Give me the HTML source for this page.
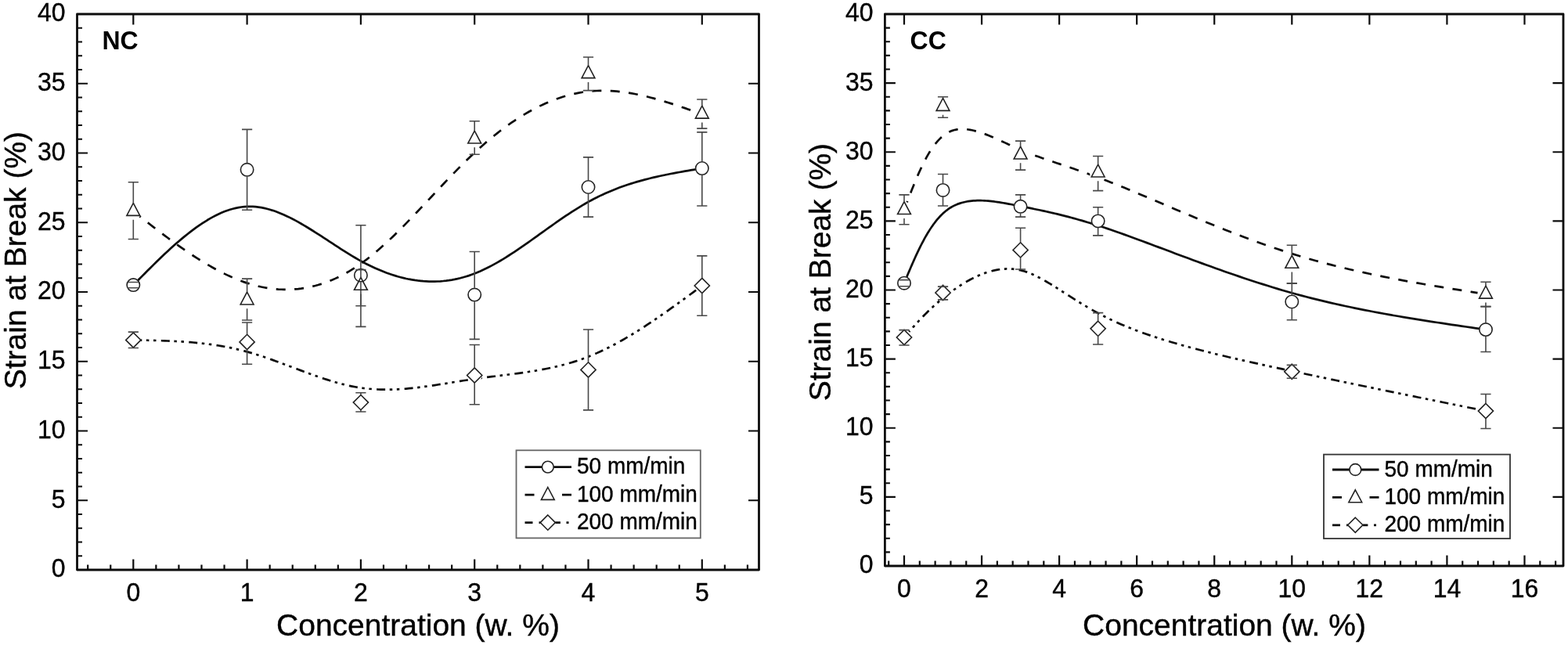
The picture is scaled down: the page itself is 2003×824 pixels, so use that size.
<!DOCTYPE html>
<html lang="en">
<head>
<meta charset="utf-8">
<title>Strain at Break vs Concentration</title>
<style>
html,body{margin:0;padding:0;background:#fff;}
body{width:2003px;height:824px;overflow:hidden;}
svg{display:block;font-family:"Liberation Sans", Arial, Helvetica, sans-serif;}
text{fill:#000;}
.t,.t text{stroke:#000;stroke-width:0.4px;}
</style>
</head>
<body>
<svg width="2003" height="824" viewBox="0 0 2003 824">
<rect width="2003" height="824" fill="#fff"/>
<g id="L">
<defs>
<mask id="mLc" maskUnits="userSpaceOnUse" x="0" y="0" width="2003" height="824"><rect width="2003" height="824" fill="#fff"/>
<circle cx="170.3" cy="364.12" r="8.7" fill="#000"/>
<circle cx="315.6" cy="216.8" r="8.7" fill="#000"/>
<circle cx="460.9" cy="351.7" r="8.7" fill="#000"/>
<circle cx="606.2" cy="376.55" r="8.7" fill="#000"/>
<circle cx="751.5" cy="238.99" r="8.7" fill="#000"/>
<circle cx="896.8" cy="215.02" r="8.7" fill="#000"/>
</mask>
<mask id="mLt" maskUnits="userSpaceOnUse" x="0" y="0" width="2003" height="824"><rect width="2003" height="824" fill="#fff"/>
<circle cx="170.3" cy="270.05" r="10.6" fill="#000"/>
<circle cx="315.6" cy="383.65" r="10.6" fill="#000"/>
<circle cx="460.9" cy="365.01" r="10.6" fill="#000"/>
<circle cx="606.2" cy="177.75" r="10.6" fill="#000"/>
<circle cx="751.5" cy="94.32" r="10.6" fill="#000"/>
<circle cx="896.8" cy="145.8" r="10.6" fill="#000"/>
</mask>
<mask id="mLd" maskUnits="userSpaceOnUse" x="0" y="0" width="2003" height="824"><rect width="2003" height="824" fill="#fff"/>
<circle cx="170.3" cy="434.42" r="9.6" fill="#000"/>
<circle cx="315.6" cy="436.9" r="9.6" fill="#000"/>
<circle cx="460.9" cy="514.11" r="9.6" fill="#000"/>
<circle cx="606.2" cy="479.5" r="9.6" fill="#000"/>
<circle cx="751.5" cy="472.4" r="9.6" fill="#000"/>
<circle cx="896.8" cy="365.01" r="9.6" fill="#000"/>
</mask>
</defs>
<path mask="url(#mLc)" d="M170.3 364.12L173.93 360.44L177.56 356.76L181.2 353.1L184.83 349.44L188.46 345.8L192.09 342.19L195.73 338.6L199.36 335.04L202.99 331.51L206.63 328.03L210.26 324.59L213.89 321.2L217.52 317.86L221.16 314.58L224.79 311.36L228.42 308.21L232.05 305.12L235.69 302.12L239.32 299.19L242.95 296.34L246.58 293.59L250.22 290.92L253.85 288.36L257.48 285.89L261.11 283.53L264.75 281.28L268.38 279.15L272.01 277.13L275.64 275.24L279.27 273.48L282.91 271.84L286.54 270.35L290.17 268.99L293.81 267.79L297.44 266.73L301.07 265.82L304.7 265.08L308.34 264.5L311.97 264.08L315.6 263.84L319.23 263.77L322.87 263.87L326.5 264.14L330.13 264.56L333.76 265.14L337.4 265.86L341.03 266.72L344.66 267.72L348.29 268.84L351.93 270.08L355.56 271.44L359.19 272.91L362.82 274.48L366.45 276.15L370.09 277.9L373.72 279.75L377.35 281.67L380.99 283.66L384.62 285.72L388.25 287.84L391.88 290.01L395.51 292.23L399.15 294.49L402.78 296.79L406.41 299.12L410.05 301.46L413.68 303.83L417.31 306.21L420.94 308.59L424.58 310.97L428.21 313.35L431.84 315.71L435.47 318.05L439.11 320.36L442.74 322.64L446.37 324.89L450 327.09L453.64 329.24L457.27 331.33L460.9 333.36L464.53 335.32L468.16 337.21L471.8 339.04L475.43 340.79L479.06 342.47L482.7 344.07L486.33 345.6L489.96 347.06L493.59 348.45L497.23 349.75L500.86 350.98L504.49 352.13L508.12 353.21L511.75 354.2L515.39 355.11L519.02 355.95L522.65 356.7L526.29 357.36L529.92 357.95L533.55 358.45L537.18 358.86L540.82 359.19L544.45 359.43L548.08 359.59L551.71 359.66L555.35 359.63L558.98 359.52L562.61 359.32L566.24 359.02L569.88 358.63L573.51 358.15L577.14 357.57L580.77 356.9L584.41 356.14L588.04 355.27L591.67 354.31L595.3 353.25L598.94 352.1L602.57 350.84L606.2 349.48L609.83 348.02L613.47 346.47L617.1 344.82L620.73 343.08L624.36 341.26L628 339.36L631.63 337.38L635.26 335.33L638.89 333.21L642.52 331.04L646.16 328.8L649.79 326.51L653.42 324.17L657.05 321.78L660.69 319.35L664.32 316.89L667.95 314.39L671.59 311.87L675.22 309.32L678.85 306.75L682.48 304.17L686.12 301.57L689.75 298.97L693.38 296.37L697.01 293.77L700.64 291.17L704.28 288.59L707.91 286.02L711.54 283.47L715.18 280.94L718.81 278.44L722.44 275.98L726.07 273.55L729.71 271.16L733.34 268.81L736.97 266.52L740.6 264.28L744.24 262.1L747.87 259.97L751.5 257.92L755.13 255.94L758.76 254.02L762.4 252.18L766.03 250.39L769.66 248.68L773.3 247.02L776.93 245.43L780.56 243.89L784.19 242.41L787.83 240.98L791.46 239.61L795.09 238.29L798.72 237.02L802.36 235.8L805.99 234.62L809.62 233.49L813.25 232.4L816.88 231.35L820.52 230.35L824.15 229.37L827.78 228.44L831.41 227.53L835.05 226.66L838.68 225.82L842.31 225.01L845.94 224.22L849.58 223.46L853.21 222.72L856.84 222.01L860.47 221.31L864.11 220.63L867.74 219.97L871.37 219.32L875 218.68L878.64 218.06L882.27 217.44L885.9 216.83L889.53 216.23L893.17 215.62L896.8 215.02" fill="none" stroke="#0c0c0c" stroke-width="2.7" stroke-linejoin="round"/>
<path mask="url(#mLt)" d="M170.3 270.05L173.93 272.89L177.56 275.73L181.2 278.56L184.83 281.39L188.46 284.21L192.09 287.02L195.73 289.81L199.36 292.59L202.99 295.36L206.63 298.11L210.26 300.83L213.89 303.53L217.52 306.21L221.16 308.87L224.79 311.49L228.42 314.08L232.05 316.64L235.69 319.16L239.32 321.65L242.95 324.1L246.58 326.5L250.22 328.86L253.85 331.18L257.48 333.45L261.11 335.67L264.75 337.84L268.38 339.95L272.01 342.01L275.64 344.01L279.27 345.95L282.91 347.83L286.54 349.65L290.17 351.39L293.81 353.07L297.44 354.69L301.07 356.22L304.7 357.69L308.34 359.07L311.97 360.38L315.6 361.61L319.23 362.76L322.87 363.82L326.5 364.8L330.13 365.69L333.76 366.5L337.4 367.22L341.03 367.86L344.66 368.41L348.29 368.88L351.93 369.25L355.56 369.54L359.19 369.74L362.82 369.85L366.45 369.87L370.09 369.8L373.72 369.64L377.35 369.38L380.99 369.04L384.62 368.6L388.25 368.06L391.88 367.44L395.51 366.72L399.15 365.9L402.78 364.99L406.41 363.98L410.05 362.87L413.68 361.67L417.31 360.37L420.94 358.97L424.58 357.47L428.21 355.87L431.84 354.17L435.47 352.38L439.11 350.47L442.74 348.47L446.37 346.37L450 344.16L453.64 341.85L457.27 339.43L460.9 336.91L464.53 334.28L468.16 331.56L471.8 328.73L475.43 325.82L479.06 322.81L482.7 319.72L486.33 316.55L489.96 313.31L493.59 309.99L497.23 306.61L500.86 303.17L504.49 299.66L508.12 296.1L511.75 292.49L515.39 288.84L519.02 285.14L522.65 281.41L526.29 277.65L529.92 273.85L533.55 270.03L537.18 266.19L540.82 262.34L544.45 258.47L548.08 254.59L551.71 250.72L555.35 246.84L558.98 242.97L562.61 239.11L566.24 235.26L569.88 231.43L573.51 227.62L577.14 223.84L580.77 220.09L584.41 216.37L588.04 212.7L591.67 209.06L595.3 205.48L598.94 201.95L602.57 198.47L606.2 195.06L609.83 191.71L613.47 188.42L617.1 185.2L620.73 182.05L624.36 178.96L628 175.94L631.63 172.99L635.26 170.11L638.89 167.29L642.52 164.55L646.16 161.87L649.79 159.27L653.42 156.73L657.05 154.27L660.69 151.88L664.32 149.56L667.95 147.31L671.59 145.14L675.22 143.04L678.85 141.01L682.48 139.06L686.12 137.18L689.75 135.38L693.38 133.66L697.01 132.01L700.64 130.44L704.28 128.95L707.91 127.53L711.54 126.19L715.18 124.94L718.81 123.76L722.44 122.66L726.07 121.64L729.71 120.7L733.34 119.85L736.97 119.08L740.6 118.38L744.24 117.78L747.87 117.25L751.5 116.81L755.13 116.45L758.76 116.18L762.4 115.98L766.03 115.86L769.66 115.82L773.3 115.85L776.93 115.96L780.56 116.13L784.19 116.37L787.83 116.68L791.46 117.05L795.09 117.48L798.72 117.97L802.36 118.52L805.99 119.12L809.62 119.77L813.25 120.48L816.88 121.23L820.52 122.03L824.15 122.87L827.78 123.76L831.41 124.69L835.05 125.65L838.68 126.65L842.31 127.68L845.94 128.75L849.58 129.84L853.21 130.96L856.84 132.11L860.47 133.28L864.11 134.47L867.74 135.68L871.37 136.91L875 138.15L878.64 139.41L882.27 140.67L885.9 141.95L889.53 143.23L893.17 144.51L896.8 145.8" fill="none" stroke="#0c0c0c" stroke-width="2.7" stroke-linejoin="round" stroke-dasharray="12 11.4"/>
<path mask="url(#mLd)" d="M170.3 434.42L173.93 434.48L177.56 434.54L181.2 434.61L184.83 434.68L188.46 434.75L192.09 434.83L195.73 434.92L199.36 435.01L202.99 435.12L206.63 435.23L210.26 435.36L213.89 435.5L217.52 435.65L221.16 435.82L224.79 436L228.42 436.21L232.05 436.43L235.69 436.67L239.32 436.93L242.95 437.21L246.58 437.52L250.22 437.85L253.85 438.21L257.48 438.6L261.11 439.01L264.75 439.45L268.38 439.92L272.01 440.43L275.64 440.96L279.27 441.53L282.91 442.14L286.54 442.78L290.17 443.46L293.81 444.18L297.44 444.93L301.07 445.73L304.7 446.57L308.34 447.45L311.97 448.38L315.6 449.35L319.23 450.37L322.87 451.44L326.5 452.54L330.13 453.68L333.76 454.86L337.4 456.07L341.03 457.31L344.66 458.57L348.29 459.86L351.93 461.17L355.56 462.49L359.19 463.83L362.82 465.18L366.45 466.55L370.09 467.91L373.72 469.28L377.35 470.65L380.99 472.02L384.62 473.38L388.25 474.73L391.88 476.07L395.51 477.4L399.15 478.71L402.78 480L406.41 481.26L410.05 482.5L413.68 483.71L417.31 484.89L420.94 486.04L424.58 487.14L428.21 488.21L431.84 489.23L435.47 490.2L439.11 491.13L442.74 492L446.37 492.82L450 493.58L453.64 494.27L457.27 494.91L460.9 495.47L464.53 495.97L468.16 496.4L471.8 496.77L475.43 497.07L479.06 497.31L482.7 497.49L486.33 497.61L489.96 497.68L493.59 497.7L497.23 497.67L500.86 497.59L504.49 497.46L508.12 497.29L511.75 497.08L515.39 496.82L519.02 496.54L522.65 496.21L526.29 495.85L529.92 495.47L533.55 495.05L537.18 494.61L540.82 494.14L544.45 493.65L548.08 493.14L551.71 492.62L555.35 492.07L558.98 491.52L562.61 490.95L566.24 490.38L569.88 489.8L573.51 489.21L577.14 488.62L580.77 488.03L584.41 487.44L588.04 486.86L591.67 486.29L595.3 485.72L598.94 485.16L602.57 484.62L606.2 484.09L609.83 483.57L613.47 483.07L617.1 482.59L620.73 482.12L624.36 481.65L628 481.19L631.63 480.74L635.26 480.29L638.89 479.85L642.52 479.4L646.16 478.95L649.79 478.49L653.42 478.03L657.05 477.56L660.69 477.08L664.32 476.58L667.95 476.07L671.59 475.54L675.22 475L678.85 474.43L682.48 473.85L686.12 473.23L689.75 472.59L693.38 471.92L697.01 471.22L700.64 470.49L704.28 469.72L707.91 468.92L711.54 468.08L715.18 467.2L718.81 466.27L722.44 465.3L726.07 464.28L729.71 463.22L733.34 462.1L736.97 460.93L740.6 459.71L744.24 458.42L747.87 457.09L751.5 455.69L755.13 454.22L758.76 452.7L762.4 451.12L766.03 449.48L769.66 447.78L773.3 446.03L776.93 444.22L780.56 442.36L784.19 440.46L787.83 438.5L791.46 436.5L795.09 434.45L798.72 432.36L802.36 430.22L805.99 428.05L809.62 425.83L813.25 423.58L816.88 421.29L820.52 418.97L824.15 416.62L827.78 414.23L831.41 411.81L835.05 409.37L838.68 406.9L842.31 404.4L845.94 401.88L849.58 399.34L853.21 396.78L856.84 394.2L860.47 391.6L864.11 388.98L867.74 386.36L871.37 383.72L875 381.06L878.64 378.4L882.27 375.73L885.9 373.06L889.53 370.38L893.17 367.7L896.8 365.01" fill="none" stroke="#0c0c0c" stroke-width="2.7" stroke-linejoin="round" stroke-dasharray="11 5.6 3.5 5.6 3.5 6.3"/>
<circle cx="170.3" cy="364.12" r="8.2" fill="none" stroke="#222" stroke-width="1.6"/>
<circle cx="315.6" cy="216.8" r="8.2" fill="none" stroke="#222" stroke-width="1.6"/>
<circle cx="460.9" cy="351.7" r="8.2" fill="none" stroke="#222" stroke-width="1.6"/>
<circle cx="606.2" cy="376.55" r="8.2" fill="none" stroke="#222" stroke-width="1.6"/>
<circle cx="751.5" cy="238.99" r="8.2" fill="none" stroke="#222" stroke-width="1.6"/>
<circle cx="896.8" cy="215.02" r="8.2" fill="none" stroke="#222" stroke-width="1.6"/>
<path d="M163.7 360.57H176.9M163.7 367.68H176.9M315.6 165.33V208.1M315.6 225.5V268.28M309 165.33H322.2M309 268.28H322.2M460.9 287.8V343M460.9 360.4V417.38M454.3 287.8H467.5M454.3 417.38H467.5M606.2 321.53V367.85M606.2 385.25V433.35M599.6 321.53H612.8M599.6 433.35H612.8M751.5 200.83V230.29M751.5 247.69V277.15M744.9 200.83H758.1M744.9 277.15H758.1M896.8 168.88V206.32M896.8 223.72V262.95M890.2 168.88H903.4M890.2 262.95H903.4" fill="none" stroke="#484848" stroke-width="1.6"/>
<path d="M170.3 259.45L178.7 275.35L161.9 275.35Z" fill="none" stroke="#222" stroke-width="1.6" stroke-linejoin="miter"/>
<path d="M315.6 373.05L324 388.95L307.2 388.95Z" fill="none" stroke="#222" stroke-width="1.6" stroke-linejoin="miter"/>
<path d="M460.9 354.41L469.3 370.31L452.5 370.31Z" fill="none" stroke="#222" stroke-width="1.6" stroke-linejoin="miter"/>
<path d="M606.2 167.15L614.6 183.05L597.8 183.05Z" fill="none" stroke="#222" stroke-width="1.6" stroke-linejoin="miter"/>
<path d="M751.5 83.72L759.9 99.62L743.1 99.62Z" fill="none" stroke="#222" stroke-width="1.6" stroke-linejoin="miter"/>
<path d="M896.8 135.2L905.2 151.1L888.4 151.1Z" fill="none" stroke="#222" stroke-width="1.6" stroke-linejoin="miter"/>
<path d="M170.3 232.78V259.45M170.3 280.65V305.55M163.7 232.78H176.9M163.7 305.55H176.9M315.6 356.14V373.05M315.6 394.25V409.03M309 356.14H322.2M309 409.03H322.2M460.9 344.6V354.41M460.9 375.61V390.75M454.3 344.6H467.5M454.3 390.75H467.5M606.2 154.68V167.15M606.2 188.35V197.27M599.6 154.68H612.8M599.6 197.27H612.8M751.5 73.02V83.72M751.5 104.92V115.62M744.9 73.02H758.1M744.9 115.62H758.1M896.8 126.99V135.2M896.8 156.4V164.08M890.2 126.99H903.4M890.2 164.08H903.4" fill="none" stroke="#484848" stroke-width="1.6"/>
<path d="M170.3 424.81L179.9 434.42L170.3 444.02L160.7 434.42Z" fill="none" stroke="#222" stroke-width="1.6" stroke-linejoin="miter"/>
<path d="M315.6 427.3L325.2 436.9L315.6 446.5L306 436.9Z" fill="none" stroke="#222" stroke-width="1.6" stroke-linejoin="miter"/>
<path d="M460.9 504.51L470.5 514.11L460.9 523.71L451.3 514.11Z" fill="none" stroke="#222" stroke-width="1.6" stroke-linejoin="miter"/>
<path d="M606.2 469.9L615.8 479.5L606.2 489.1L596.6 479.5Z" fill="none" stroke="#222" stroke-width="1.6" stroke-linejoin="miter"/>
<path d="M751.5 462.8L761.1 472.4L751.5 482L741.9 472.4Z" fill="none" stroke="#222" stroke-width="1.6" stroke-linejoin="miter"/>
<path d="M896.8 355.41L906.4 365.01L896.8 374.61L887.2 365.01Z" fill="none" stroke="#222" stroke-width="1.6" stroke-linejoin="miter"/>
<path d="M170.3 424.12V424.81M170.3 444.02V444.53M163.7 424.12H176.9M163.7 444.53H176.9M315.6 412.05V427.3M315.6 446.5V465.3M309 412.05H322.2M309 465.3H322.2M460.9 501.69V504.51M460.9 523.71V526M454.3 501.69H467.5M454.3 526H467.5M606.2 440.45V469.9M606.2 489.1V516.77M599.6 440.45H612.8M599.6 516.77H612.8M751.5 420.93V462.8M751.5 482V523.88M744.9 420.93H758.1M744.9 523.88H758.1M896.8 326.85V355.41M896.8 374.61V403.18M890.2 326.85H903.4M890.2 403.18H903.4" fill="none" stroke="#484848" stroke-width="1.6"/>
<rect x="98.5" y="18" width="871" height="710" fill="none" stroke="#0c0c0c" stroke-width="2.8" stroke-linejoin="round"/>
<path d="M98.5 710.25h6.5M98.5 692.5h6.5M98.5 674.75h6.5M98.5 657h6.5M98.5 639.25h13.5M969.5 639.25h-13.5M98.5 621.5h6.5M98.5 603.75h6.5M98.5 586h6.5M98.5 568.25h6.5M98.5 550.5h13.5M969.5 550.5h-13.5M98.5 532.75h6.5M98.5 515h6.5M98.5 497.25h6.5M98.5 479.5h6.5M98.5 461.75h13.5M969.5 461.75h-13.5M98.5 444h6.5M98.5 426.25h6.5M98.5 408.5h6.5M98.5 390.75h6.5M98.5 373h13.5M969.5 373h-13.5M98.5 355.25h6.5M98.5 337.5h6.5M98.5 319.75h6.5M98.5 302h6.5M98.5 284.25h13.5M969.5 284.25h-13.5M98.5 266.5h6.5M98.5 248.75h6.5M98.5 231h6.5M98.5 213.25h6.5M98.5 195.5h13.5M969.5 195.5h-13.5M98.5 177.75h6.5M98.5 160h6.5M98.5 142.25h6.5M98.5 124.5h6.5M98.5 106.75h13.5M969.5 106.75h-13.5M98.5 89h6.5M98.5 71.25h6.5M98.5 53.5h6.5M98.5 35.75h6.5M170.3 728v-13.5M170.3 18v13.5M315.6 728v-13.5M315.6 18v13.5M460.9 728v-13.5M460.9 18v13.5M606.2 728v-13.5M606.2 18v13.5M751.5 728v-13.5M751.5 18v13.5M896.8 728v-13.5M896.8 18v13.5M112.18 728v-6.5M141.24 728v-6.5M199.36 728v-6.5M228.42 728v-6.5M257.48 728v-6.5M286.54 728v-6.5M344.66 728v-6.5M373.72 728v-6.5M402.78 728v-6.5M431.84 728v-6.5M489.96 728v-6.5M519.02 728v-6.5M548.08 728v-6.5M577.14 728v-6.5M635.26 728v-6.5M664.32 728v-6.5M693.38 728v-6.5M722.44 728v-6.5M780.56 728v-6.5M809.62 728v-6.5M838.68 728v-6.5M867.74 728v-6.5M925.86 728v-6.5M954.92 728v-6.5" fill="none" stroke="#0c0c0c" stroke-width="2.2"/>
<text class="t" transform="translate(83.6 737.4) scale(0.96 1)" font-size="33.3" text-anchor="end">0</text>
<text class="t" transform="translate(83.6 648.65) scale(0.96 1)" font-size="33.3" text-anchor="end">5</text>
<text class="t" transform="translate(83.6 559.9) scale(0.96 1)" font-size="33.3" text-anchor="end">10</text>
<text class="t" transform="translate(83.6 471.15) scale(0.96 1)" font-size="33.3" text-anchor="end">15</text>
<text class="t" transform="translate(83.6 382.4) scale(0.96 1)" font-size="33.3" text-anchor="end">20</text>
<text class="t" transform="translate(83.6 293.65) scale(0.96 1)" font-size="33.3" text-anchor="end">25</text>
<text class="t" transform="translate(83.6 204.9) scale(0.96 1)" font-size="33.3" text-anchor="end">30</text>
<text class="t" transform="translate(83.6 116.15) scale(0.96 1)" font-size="33.3" text-anchor="end">35</text>
<text class="t" transform="translate(83.6 27.4) scale(0.96 1)" font-size="33.3" text-anchor="end">40</text>
<text class="t" transform="translate(170.3 768.3) scale(0.96 1)" font-size="33.3" text-anchor="middle">0</text>
<text class="t" transform="translate(315.6 768.3) scale(0.96 1)" font-size="33.3" text-anchor="middle">1</text>
<text class="t" transform="translate(460.9 768.3) scale(0.96 1)" font-size="33.3" text-anchor="middle">2</text>
<text class="t" transform="translate(606.2 768.3) scale(0.96 1)" font-size="33.3" text-anchor="middle">3</text>
<text class="t" transform="translate(751.5 768.3) scale(0.96 1)" font-size="33.3" text-anchor="middle">4</text>
<text class="t" transform="translate(896.8 768.3) scale(0.96 1)" font-size="33.3" text-anchor="middle">5</text>
<text class="t" transform="translate(534 812.2) scale(0.987 1)" font-size="39.5" text-anchor="middle">Concentration (w. %)</text>
<text class="t" transform="translate(32.7 332.6) rotate(-90) scale(0.987 1)" font-size="39.5" text-anchor="middle">Strain at Break (%)</text>
<text transform="translate(130.5 63) scale(0.96 1)" font-size="33.3" font-weight="bold">NC</text>
<rect x="659.5" y="575.3" width="235.3" height="112.1" fill="#fff" stroke="#666" stroke-width="1.8"/>
<path d="M670.5 596.6H692.4M707.2 596.6H730" stroke="#0c0c0c" stroke-width="2.8"/>
<circle cx="699.8" cy="596.6" r="7.4" fill="none" stroke="#222" stroke-width="1.6"/>
<text class="t" transform="translate(737 605.1) scale(0.972 1)" font-size="28.8">50 mm/min</text>
<path d="M670.5 632.1h12M718 632.1h12" stroke="#0c0c0c" stroke-width="2.8"/>
<path d="M699.8 622.5L708.2 638.4L691.4 638.4Z" fill="none" stroke="#222" stroke-width="1.6" stroke-linejoin="miter"/>
<text class="t" transform="translate(737 640.6) scale(0.972 1)" font-size="28.8">100 mm/min</text>
<path d="M670.5 667.6h10M688.5 667.6H690.2M709.4 667.6h6.5M723.5 667.6h3" stroke="#0c0c0c" stroke-width="2.8"/>
<path d="M699.8 658L709.4 667.6L699.8 677.2L690.2 667.6Z" fill="none" stroke="#222" stroke-width="1.6" stroke-linejoin="miter"/>
<text class="t" transform="translate(737 676.1) scale(0.972 1)" font-size="28.8">200 mm/min</text>
</g>
<g id="R">
<defs>
<mask id="mRc" maskUnits="userSpaceOnUse" x="0" y="0" width="2003" height="824"><rect width="2003" height="824" fill="#fff"/>
<circle cx="1155" cy="361.69" r="8.7" fill="#000"/>
<circle cx="1204.53" cy="242.9" r="8.7" fill="#000"/>
<circle cx="1303.59" cy="263.87" r="8.7" fill="#000"/>
<circle cx="1402.65" cy="282.38" r="8.7" fill="#000"/>
<circle cx="1650.3" cy="385.48" r="8.7" fill="#000"/>
<circle cx="1897.95" cy="421.08" r="8.7" fill="#000"/>
</mask>
<mask id="mRt" maskUnits="userSpaceOnUse" x="0" y="0" width="2003" height="824"><rect width="2003" height="824" fill="#fff"/>
<circle cx="1155" cy="268.27" r="10.6" fill="#000"/>
<circle cx="1204.53" cy="136.09" r="10.6" fill="#000"/>
<circle cx="1303.59" cy="197.77" r="10.6" fill="#000"/>
<circle cx="1402.65" cy="220.69" r="10.6" fill="#000"/>
<circle cx="1650.3" cy="337.01" r="10.6" fill="#000"/>
<circle cx="1897.95" cy="375.79" r="10.6" fill="#000"/>
</mask>
<mask id="mRd" maskUnits="userSpaceOnUse" x="0" y="0" width="2003" height="824"><rect width="2003" height="824" fill="#fff"/>
<circle cx="1155" cy="430.95" r="9.6" fill="#000"/>
<circle cx="1204.53" cy="374.02" r="9.6" fill="#000"/>
<circle cx="1303.59" cy="319.39" r="9.6" fill="#000"/>
<circle cx="1402.65" cy="419.85" r="9.6" fill="#000"/>
<circle cx="1650.3" cy="474.84" r="9.6" fill="#000"/>
<circle cx="1897.95" cy="525.07" r="9.6" fill="#000"/>
</mask>
</defs>
<path mask="url(#mRc)" d="M1155 361.69L1156.24 358.72L1157.48 355.75L1158.72 352.79L1159.96 349.83L1161.21 346.88L1162.46 343.95L1163.71 341.02L1164.97 338.12L1166.24 335.22L1167.51 332.35L1168.79 329.5L1170.08 326.68L1171.38 323.88L1172.69 321.11L1174.01 318.37L1175.34 315.66L1176.68 312.99L1178.04 310.35L1179.41 307.76L1180.8 305.2L1182.2 302.69L1183.61 300.23L1185.05 297.81L1186.5 295.44L1187.97 293.13L1189.46 290.87L1190.97 288.67L1192.5 286.52L1194.06 284.44L1195.63 282.42L1197.23 280.47L1198.85 278.58L1200.5 276.76L1202.17 275.02L1203.87 273.35L1205.59 271.76L1207.35 270.24L1209.13 268.81L1210.94 267.46L1212.78 266.19L1214.66 265.01L1216.56 263.92L1218.49 262.9L1220.45 261.97L1222.44 261.12L1224.46 260.35L1226.5 259.64L1228.57 259.01L1230.66 258.45L1232.78 257.96L1234.92 257.53L1237.08 257.17L1239.26 256.86L1241.47 256.62L1243.69 256.43L1245.94 256.29L1248.2 256.21L1250.48 256.17L1252.78 256.18L1255.09 256.24L1257.42 256.34L1259.77 256.48L1262.12 256.66L1264.49 256.88L1266.88 257.13L1269.27 257.41L1271.68 257.73L1274.09 258.06L1276.52 258.43L1278.95 258.82L1281.4 259.22L1283.84 259.65L1286.3 260.09L1288.76 260.55L1291.22 261.02L1293.69 261.49L1296.16 261.98L1298.64 262.47L1301.11 262.96L1303.59 263.46L1306.07 263.95L1308.55 264.44L1311.03 264.94L1313.52 265.43L1316.02 265.93L1318.53 266.44L1321.06 266.95L1323.6 267.47L1326.16 268L1328.74 268.54L1331.35 269.09L1333.98 269.66L1336.63 270.24L1339.32 270.84L1342.04 271.45L1344.8 272.08L1347.59 272.74L1350.42 273.41L1353.3 274.11L1356.22 274.83L1359.18 275.58L1362.19 276.36L1365.26 277.16L1368.38 277.99L1371.55 278.86L1374.78 279.75L1378.07 280.68L1381.43 281.65L1384.85 282.65L1388.33 283.69L1391.89 284.77L1395.52 285.89L1399.22 287.05L1403 288.26L1406.86 289.51L1410.8 290.8L1414.82 292.15L1418.93 293.54L1423.13 294.98L1427.41 296.47L1431.79 298.02L1436.27 299.62L1440.82 301.26L1445.47 302.95L1450.2 304.69L1455.01 306.46L1459.89 308.28L1464.86 310.13L1469.9 312.01L1475.01 313.92L1480.19 315.87L1485.44 317.84L1490.75 319.83L1496.13 321.85L1501.56 323.89L1507.06 325.94L1512.61 328.01L1518.21 330.09L1523.87 332.19L1529.57 334.28L1535.32 336.39L1541.11 338.5L1546.95 340.6L1552.82 342.71L1558.74 344.81L1564.68 346.91L1570.66 349L1576.67 351.07L1582.71 353.13L1588.77 355.18L1594.86 357.21L1600.97 359.21L1607.09 361.2L1613.24 363.15L1619.39 365.08L1625.56 366.98L1631.74 368.85L1637.92 370.68L1644.11 372.48L1650.3 374.23L1656.49 375.94L1662.68 377.62L1668.87 379.25L1675.07 380.84L1681.26 382.39L1687.45 383.91L1693.64 385.39L1699.83 386.84L1706.02 388.25L1712.21 389.64L1718.4 390.98L1724.6 392.3L1730.79 393.59L1736.98 394.85L1743.17 396.09L1749.36 397.29L1755.55 398.47L1761.74 399.63L1767.93 400.76L1774.12 401.88L1780.32 402.97L1786.51 404.04L1792.7 405.09L1798.89 406.12L1805.08 407.14L1811.27 408.14L1817.46 409.13L1823.65 410.1L1829.85 411.06L1836.04 412.01L1842.23 412.95L1848.42 413.87L1854.61 414.79L1860.8 415.71L1866.99 416.61L1873.18 417.51L1879.38 418.41L1885.57 419.3L1891.76 420.19L1897.95 421.08" fill="none" stroke="#0c0c0c" stroke-width="2.7" stroke-linejoin="round"/>
<path mask="url(#mRt)" d="M1155 268.27L1156.24 264.97L1157.48 261.67L1158.72 258.37L1159.96 255.09L1161.21 251.81L1162.46 248.56L1163.71 245.32L1164.97 242.1L1166.24 238.9L1167.51 235.73L1168.79 232.6L1170.08 229.49L1171.38 226.42L1172.69 223.39L1174.01 220.41L1175.34 217.47L1176.68 214.58L1178.04 211.74L1179.41 208.95L1180.8 206.22L1182.2 203.55L1183.61 200.95L1185.05 198.41L1186.5 195.94L1187.97 193.55L1189.46 191.23L1190.97 188.99L1192.5 186.83L1194.06 184.75L1195.63 182.77L1197.23 180.87L1198.85 179.07L1200.5 177.36L1202.17 175.76L1203.87 174.26L1205.59 172.86L1207.35 171.58L1209.13 170.4L1210.94 169.34L1212.78 168.4L1214.66 167.58L1216.56 166.87L1218.49 166.29L1220.45 165.81L1222.44 165.43L1224.46 165.16L1226.5 164.99L1228.57 164.92L1230.66 164.93L1232.78 165.04L1234.92 165.23L1237.08 165.5L1239.26 165.85L1241.47 166.27L1243.69 166.77L1245.94 167.33L1248.2 167.95L1250.48 168.63L1252.78 169.37L1255.09 170.16L1257.42 171L1259.77 171.88L1262.12 172.81L1264.49 173.77L1266.88 174.77L1269.27 175.8L1271.68 176.85L1274.09 177.92L1276.52 179.02L1278.95 180.13L1281.4 181.26L1283.84 182.39L1286.3 183.52L1288.76 184.66L1291.22 185.8L1293.69 186.93L1296.16 188.05L1298.64 189.15L1301.11 190.24L1303.59 191.31L1306.07 192.36L1308.55 193.38L1311.03 194.39L1313.52 195.37L1316.02 196.34L1318.53 197.3L1321.06 198.24L1323.6 199.17L1326.16 200.1L1328.74 201.02L1331.35 201.94L1333.98 202.85L1336.63 203.77L1339.32 204.69L1342.04 205.61L1344.8 206.54L1347.59 207.48L1350.42 208.43L1353.3 209.39L1356.22 210.37L1359.18 211.36L1362.19 212.38L1365.26 213.41L1368.38 214.47L1371.55 215.56L1374.78 216.67L1378.07 217.81L1381.43 218.98L1384.85 220.19L1388.33 221.43L1391.89 222.71L1395.52 224.02L1399.22 225.39L1403 226.79L1406.86 228.24L1410.8 229.74L1414.82 231.29L1418.93 232.89L1423.13 234.54L1427.41 236.26L1431.79 238.03L1436.27 239.85L1440.82 241.73L1445.47 243.66L1450.2 245.63L1455.01 247.65L1459.89 249.72L1464.86 251.82L1469.9 253.96L1475.01 256.13L1480.19 258.34L1485.44 260.58L1490.75 262.84L1496.13 265.12L1501.56 267.43L1507.06 269.75L1512.61 272.09L1518.21 274.45L1523.87 276.81L1529.57 279.18L1535.32 281.56L1541.11 283.93L1546.95 286.31L1552.82 288.69L1558.74 291.06L1564.68 293.42L1570.66 295.77L1576.67 298.1L1582.71 300.42L1588.77 302.72L1594.86 305L1600.97 307.25L1607.09 309.48L1613.24 311.68L1619.39 313.84L1625.56 315.97L1631.74 318.07L1637.92 320.12L1644.11 322.12L1650.3 324.09L1656.49 326L1662.68 327.87L1668.87 329.69L1675.07 331.47L1681.26 333.2L1687.45 334.89L1693.64 336.54L1699.83 338.15L1706.02 339.72L1712.21 341.25L1718.4 342.75L1724.6 344.21L1730.79 345.64L1736.98 347.03L1743.17 348.4L1749.36 349.73L1755.55 351.03L1761.74 352.31L1767.93 353.56L1774.12 354.78L1780.32 355.98L1786.51 357.16L1792.7 358.32L1798.89 359.45L1805.08 360.57L1811.27 361.66L1817.46 362.74L1823.65 363.81L1829.85 364.86L1836.04 365.89L1842.23 366.92L1848.42 367.93L1854.61 368.93L1860.8 369.93L1866.99 370.92L1873.18 371.9L1879.38 372.87L1885.57 373.85L1891.76 374.82L1897.95 375.79" fill="none" stroke="#0c0c0c" stroke-width="2.7" stroke-linejoin="round" stroke-dasharray="12 11.4"/>
<path mask="url(#mRd)" d="M1155 430.95L1156.24 429.53L1157.48 428.11L1158.72 426.68L1159.96 425.26L1161.21 423.84L1162.46 422.42L1163.71 420.99L1164.97 419.57L1166.24 418.15L1167.51 416.73L1168.79 415.31L1170.08 413.89L1171.38 412.47L1172.69 411.05L1174.01 409.63L1175.34 408.21L1176.68 406.79L1178.04 405.37L1179.41 403.95L1180.8 402.54L1182.2 401.12L1183.61 399.71L1185.05 398.29L1186.5 396.88L1187.97 395.47L1189.46 394.05L1190.97 392.64L1192.5 391.23L1194.06 389.83L1195.63 388.42L1197.23 387.01L1198.85 385.61L1200.5 384.2L1202.17 382.8L1203.87 381.4L1205.59 380L1207.35 378.6L1209.13 377.2L1210.94 375.8L1212.78 374.41L1214.66 373.01L1216.56 371.62L1218.49 370.24L1220.45 368.87L1222.44 367.5L1224.46 366.15L1226.5 364.82L1228.57 363.5L1230.66 362.2L1232.78 360.93L1234.92 359.68L1237.08 358.46L1239.26 357.27L1241.47 356.12L1243.69 354.99L1245.94 353.91L1248.2 352.86L1250.48 351.86L1252.78 350.9L1255.09 349.99L1257.42 349.12L1259.77 348.31L1262.12 347.55L1264.49 346.85L1266.88 346.21L1269.27 345.63L1271.68 345.11L1274.09 344.66L1276.52 344.27L1278.95 343.96L1281.4 343.72L1283.84 343.55L1286.3 343.47L1288.76 343.46L1291.22 343.54L1293.69 343.7L1296.16 343.94L1298.64 344.28L1301.11 344.71L1303.59 345.24L1306.07 345.86L1308.55 346.57L1311.03 347.38L1313.52 348.27L1316.02 349.25L1318.53 350.31L1321.06 351.44L1323.6 352.65L1326.16 353.94L1328.74 355.29L1331.35 356.71L1333.98 358.19L1336.63 359.73L1339.32 361.32L1342.04 362.97L1344.8 364.67L1347.59 366.42L1350.42 368.21L1353.3 370.04L1356.22 371.9L1359.18 373.8L1362.19 375.74L1365.26 377.7L1368.38 379.68L1371.55 381.69L1374.78 383.72L1378.07 385.76L1381.43 387.81L1384.85 389.87L1388.33 391.94L1391.89 394.01L1395.52 396.08L1399.22 398.15L1403 400.21L1406.86 402.27L1410.8 404.3L1414.82 406.33L1418.93 408.33L1423.13 410.31L1427.41 412.27L1431.79 414.2L1436.27 416.1L1440.82 417.98L1445.47 419.82L1450.2 421.65L1455.01 423.44L1459.89 425.21L1464.86 426.96L1469.9 428.69L1475.01 430.39L1480.19 432.07L1485.44 433.73L1490.75 435.36L1496.13 436.98L1501.56 438.58L1507.06 440.16L1512.61 441.72L1518.21 443.26L1523.87 444.79L1529.57 446.3L1535.32 447.79L1541.11 449.27L1546.95 450.74L1552.82 452.19L1558.74 453.63L1564.68 455.05L1570.66 456.46L1576.67 457.87L1582.71 459.26L1588.77 460.64L1594.86 462.01L1600.97 463.38L1607.09 464.73L1613.24 466.08L1619.39 467.42L1625.56 468.76L1631.74 470.08L1637.92 471.41L1644.11 472.73L1650.3 474.05L1656.49 475.36L1662.68 476.67L1668.87 477.98L1675.07 479.28L1681.26 480.59L1687.45 481.89L1693.64 483.19L1699.83 484.48L1706.02 485.77L1712.21 487.06L1718.4 488.35L1724.6 489.64L1730.79 490.92L1736.98 492.2L1743.17 493.48L1749.36 494.76L1755.55 496.04L1761.74 497.31L1767.93 498.59L1774.12 499.86L1780.32 501.13L1786.51 502.39L1792.7 503.66L1798.89 504.93L1805.08 506.19L1811.27 507.46L1817.46 508.72L1823.65 509.98L1829.85 511.24L1836.04 512.5L1842.23 513.76L1848.42 515.02L1854.61 516.28L1860.8 517.53L1866.99 518.79L1873.18 520.05L1879.38 521.3L1885.57 522.56L1891.76 523.82L1897.95 525.07" fill="none" stroke="#0c0c0c" stroke-width="2.7" stroke-linejoin="round" stroke-dasharray="11 5.6 3.5 5.6 3.5 6.3"/>
<circle cx="1155" cy="361.69" r="8.2" fill="none" stroke="#222" stroke-width="1.6"/>
<circle cx="1204.53" cy="242.9" r="8.2" fill="none" stroke="#222" stroke-width="1.6"/>
<circle cx="1303.59" cy="263.87" r="8.2" fill="none" stroke="#222" stroke-width="1.6"/>
<circle cx="1402.65" cy="282.38" r="8.2" fill="none" stroke="#222" stroke-width="1.6"/>
<circle cx="1650.3" cy="385.48" r="8.2" fill="none" stroke="#222" stroke-width="1.6"/>
<circle cx="1897.95" cy="421.08" r="8.2" fill="none" stroke="#222" stroke-width="1.6"/>
<path d="M1148.4 357.63H1161.6M1148.4 365.74H1161.6M1204.53 222.45V234.2M1204.53 251.6V262.99M1197.93 222.45H1211.13M1197.93 262.99H1211.13M1303.59 248.89V255.17M1303.59 272.57V277.09M1296.99 248.89H1310.19M1296.99 277.09H1310.19M1402.65 264.75V273.68M1402.65 291.07V300.88M1396.05 264.75H1409.25M1396.05 300.88H1409.25M1650.3 362.22V376.78M1650.3 394.18V408.75M1643.7 362.22H1656.9M1643.7 408.75H1656.9M1897.95 391.65V412.38M1897.95 429.78V449.46M1891.35 391.65H1904.55M1891.35 449.46H1904.55" fill="none" stroke="#484848" stroke-width="1.6"/>
<path d="M1155 257.67L1163.4 273.57L1146.6 273.57Z" fill="none" stroke="#222" stroke-width="1.6" stroke-linejoin="miter"/>
<path d="M1204.53 125.49L1212.93 141.39L1196.13 141.39Z" fill="none" stroke="#222" stroke-width="1.6" stroke-linejoin="miter"/>
<path d="M1303.59 187.17L1311.99 203.07L1295.19 203.07Z" fill="none" stroke="#222" stroke-width="1.6" stroke-linejoin="miter"/>
<path d="M1402.65 210.09L1411.05 225.99L1394.25 225.99Z" fill="none" stroke="#222" stroke-width="1.6" stroke-linejoin="miter"/>
<path d="M1650.3 326.41L1658.7 342.31L1641.9 342.31Z" fill="none" stroke="#222" stroke-width="1.6" stroke-linejoin="miter"/>
<path d="M1897.95 365.19L1906.35 381.09L1889.55 381.09Z" fill="none" stroke="#222" stroke-width="1.6" stroke-linejoin="miter"/>
<path d="M1155 248.89V257.67M1155 278.88V286.78M1148.4 248.89H1161.6M1148.4 286.78H1161.6M1204.53 123.75V125.49M1204.53 146.69V150.19M1197.93 123.75H1211.13M1197.93 150.19H1211.13M1303.59 180.15V187.17M1303.59 208.37V217.16M1296.99 180.15H1310.19M1296.99 217.16H1310.19M1402.65 199.54V210.09M1402.65 231.29V243.6M1396.05 199.54H1409.25M1396.05 243.6H1409.25M1650.3 313.22V326.41M1650.3 347.61V361.69M1643.7 313.22H1656.9M1643.7 361.69H1656.9M1897.95 360.28V365.19M1897.95 386.39V391.65M1891.35 360.28H1904.55M1891.35 391.65H1904.55" fill="none" stroke="#484848" stroke-width="1.6"/>
<path d="M1155 421.35L1164.6 430.95L1155 440.55L1145.4 430.95Z" fill="none" stroke="#222" stroke-width="1.6" stroke-linejoin="miter"/>
<path d="M1204.53 364.42L1214.13 374.02L1204.53 383.62L1194.93 374.02Z" fill="none" stroke="#222" stroke-width="1.6" stroke-linejoin="miter"/>
<path d="M1303.59 309.79L1313.19 319.39L1303.59 328.99L1293.99 319.39Z" fill="none" stroke="#222" stroke-width="1.6" stroke-linejoin="miter"/>
<path d="M1402.65 410.25L1412.25 419.85L1402.65 429.45L1393.05 419.85Z" fill="none" stroke="#222" stroke-width="1.6" stroke-linejoin="miter"/>
<path d="M1650.3 465.24L1659.9 474.84L1650.3 484.44L1640.7 474.84Z" fill="none" stroke="#222" stroke-width="1.6" stroke-linejoin="miter"/>
<path d="M1897.95 515.47L1907.55 525.07L1897.95 534.67L1888.35 525.07Z" fill="none" stroke="#222" stroke-width="1.6" stroke-linejoin="miter"/>
<path d="M1155 440.55V441M1148.4 421.61H1161.6M1148.4 441H1161.6M1197.93 366.09H1211.13M1197.93 382.84H1211.13M1303.59 291.19V309.79M1303.59 328.99V344.06M1296.99 291.19H1310.19M1296.99 344.06H1310.19M1402.65 399.58V410.25M1402.65 429.45V439.94M1396.05 399.58H1409.25M1396.05 439.94H1409.25M1643.7 466.38H1656.9M1643.7 483.3H1656.9M1897.95 503.57V515.47M1897.95 534.67V547.45M1891.35 503.57H1904.55M1891.35 547.45H1904.55" fill="none" stroke="#484848" stroke-width="1.6"/>
<rect x="1130.4" y="18" width="866.6" height="705" fill="none" stroke="#0c0c0c" stroke-width="2.8" stroke-linejoin="round"/>
<path d="M1130.4 705.38h6.5M1130.4 687.75h6.5M1130.4 670.12h6.5M1130.4 652.5h6.5M1130.4 634.88h13.5M1997 634.88h-13.5M1130.4 617.25h6.5M1130.4 599.62h6.5M1130.4 582h6.5M1130.4 564.38h6.5M1130.4 546.75h13.5M1997 546.75h-13.5M1130.4 529.12h6.5M1130.4 511.5h6.5M1130.4 493.88h6.5M1130.4 476.25h6.5M1130.4 458.62h13.5M1997 458.62h-13.5M1130.4 441h6.5M1130.4 423.38h6.5M1130.4 405.75h6.5M1130.4 388.12h6.5M1130.4 370.5h13.5M1997 370.5h-13.5M1130.4 352.88h6.5M1130.4 335.25h6.5M1130.4 317.62h6.5M1130.4 300h6.5M1130.4 282.38h13.5M1997 282.38h-13.5M1130.4 264.75h6.5M1130.4 247.12h6.5M1130.4 229.5h6.5M1130.4 211.88h6.5M1130.4 194.25h13.5M1997 194.25h-13.5M1130.4 176.62h6.5M1130.4 159h6.5M1130.4 141.38h6.5M1130.4 123.75h6.5M1130.4 106.12h13.5M1997 106.12h-13.5M1130.4 88.5h6.5M1130.4 70.88h6.5M1130.4 53.25h6.5M1130.4 35.62h6.5M1155 723v-13.5M1155 18v13.5M1254.06 723v-13.5M1254.06 18v13.5M1353.12 723v-13.5M1353.12 18v13.5M1452.18 723v-13.5M1452.18 18v13.5M1551.24 723v-13.5M1551.24 18v13.5M1650.3 723v-13.5M1650.3 18v13.5M1749.36 723v-13.5M1749.36 18v13.5M1848.42 723v-13.5M1848.42 18v13.5M1947.48 723v-13.5M1947.48 18v13.5M1135.19 723v-6.5M1174.81 723v-6.5M1194.62 723v-6.5M1214.44 723v-6.5M1234.25 723v-6.5M1273.87 723v-6.5M1293.68 723v-6.5M1313.5 723v-6.5M1333.31 723v-6.5M1372.93 723v-6.5M1392.74 723v-6.5M1412.56 723v-6.5M1432.37 723v-6.5M1471.99 723v-6.5M1491.8 723v-6.5M1511.62 723v-6.5M1531.43 723v-6.5M1571.05 723v-6.5M1590.86 723v-6.5M1610.68 723v-6.5M1630.49 723v-6.5M1670.11 723v-6.5M1689.92 723v-6.5M1709.74 723v-6.5M1729.55 723v-6.5M1769.17 723v-6.5M1788.98 723v-6.5M1808.8 723v-6.5M1828.61 723v-6.5M1868.23 723v-6.5M1888.04 723v-6.5M1907.86 723v-6.5M1927.67 723v-6.5M1967.29 723v-6.5M1987.1 723v-6.5" fill="none" stroke="#0c0c0c" stroke-width="2.2"/>
<text class="t" transform="translate(1115.5 732.4) scale(0.96 1)" font-size="33.3" text-anchor="end">0</text>
<text class="t" transform="translate(1115.5 644.27) scale(0.96 1)" font-size="33.3" text-anchor="end">5</text>
<text class="t" transform="translate(1115.5 556.15) scale(0.96 1)" font-size="33.3" text-anchor="end">10</text>
<text class="t" transform="translate(1115.5 468.02) scale(0.96 1)" font-size="33.3" text-anchor="end">15</text>
<text class="t" transform="translate(1115.5 379.9) scale(0.96 1)" font-size="33.3" text-anchor="end">20</text>
<text class="t" transform="translate(1115.5 291.77) scale(0.96 1)" font-size="33.3" text-anchor="end">25</text>
<text class="t" transform="translate(1115.5 203.65) scale(0.96 1)" font-size="33.3" text-anchor="end">30</text>
<text class="t" transform="translate(1115.5 115.53) scale(0.96 1)" font-size="33.3" text-anchor="end">35</text>
<text class="t" transform="translate(1115.5 27.4) scale(0.96 1)" font-size="33.3" text-anchor="end">40</text>
<text class="t" transform="translate(1155 762.6) scale(0.96 1)" font-size="33.3" text-anchor="middle">0</text>
<text class="t" transform="translate(1254.06 762.6) scale(0.96 1)" font-size="33.3" text-anchor="middle">2</text>
<text class="t" transform="translate(1353.12 762.6) scale(0.96 1)" font-size="33.3" text-anchor="middle">4</text>
<text class="t" transform="translate(1452.18 762.6) scale(0.96 1)" font-size="33.3" text-anchor="middle">6</text>
<text class="t" transform="translate(1551.24 762.6) scale(0.96 1)" font-size="33.3" text-anchor="middle">8</text>
<text class="t" transform="translate(1650.3 762.6) scale(0.96 1)" font-size="33.3" text-anchor="middle">10</text>
<text class="t" transform="translate(1749.36 762.6) scale(0.96 1)" font-size="33.3" text-anchor="middle">12</text>
<text class="t" transform="translate(1848.42 762.6) scale(0.96 1)" font-size="33.3" text-anchor="middle">14</text>
<text class="t" transform="translate(1947.48 762.6) scale(0.96 1)" font-size="33.3" text-anchor="middle">16</text>
<text class="t" transform="translate(1564 812.2) scale(0.987 1)" font-size="39.5" text-anchor="middle">Concentration (w. %)</text>
<text class="t" transform="translate(1061.2 347.6) rotate(-90) scale(0.987 1)" font-size="39.5" text-anchor="middle">Strain at Break (%)</text>
<text transform="translate(1162.6 63) scale(0.96 1)" font-size="33.3" font-weight="bold">CC</text>
<rect x="1691" y="580.6" width="238" height="107.4" fill="#fff" stroke="#333" stroke-width="1.8"/>
<path d="M1702 600H1723.9M1738.7 600H1761.5" stroke="#0c0c0c" stroke-width="2.8"/>
<circle cx="1731.3" cy="600" r="7.4" fill="none" stroke="#222" stroke-width="1.6"/>
<text class="t" transform="translate(1768.5 608.5) scale(0.972 1)" font-size="28.8">50 mm/min</text>
<path d="M1702 635.4h12M1749.5 635.4h12" stroke="#0c0c0c" stroke-width="2.8"/>
<path d="M1731.3 625.8L1739.7 641.7L1722.9 641.7Z" fill="none" stroke="#222" stroke-width="1.6" stroke-linejoin="miter"/>
<text class="t" transform="translate(1768.5 643.9) scale(0.972 1)" font-size="28.8">100 mm/min</text>
<path d="M1702 670.8h10M1720 670.8H1721.7M1740.9 670.8h6.5M1755 670.8h3" stroke="#0c0c0c" stroke-width="2.8"/>
<path d="M1731.3 661.2L1740.9 670.8L1731.3 680.4L1721.7 670.8Z" fill="none" stroke="#222" stroke-width="1.6" stroke-linejoin="miter"/>
<text class="t" transform="translate(1768.5 679.3) scale(0.972 1)" font-size="28.8">200 mm/min</text>
</g>
</svg>
</body>
</html>
